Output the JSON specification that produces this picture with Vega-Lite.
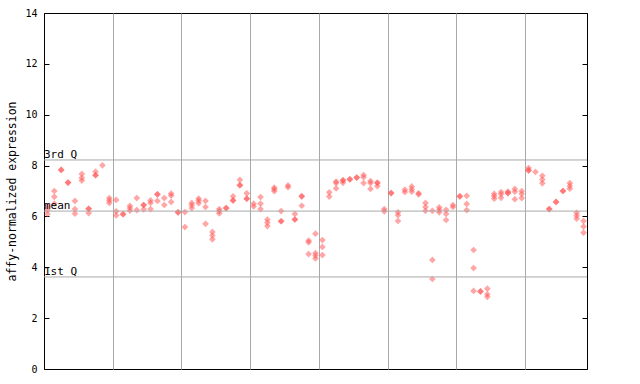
{
  "$schema": "https://vega.github.io/schema/vega-lite/v6.json",
  "width": 543,
  "height": 356,
  "autosize": {"type": "none"},
  "padding": {"left": 44, "top": 13, "right": 53, "bottom": 15},
  "config": {"view": {"stroke": "black", "strokeWidth": 1}, "font": "DejaVu Sans Mono"},
  "datasets": {
    "qs": [{"label": "3rd Q", "v": 8.22}, {"label": "mean", "v": 6.21}, {"label": "1st Q", "v": 3.62}],
    "pts": [
      {"s":0,"v":6.4},{"s":0,"v":6.25},{"s":0,"v":6.1},
      {"s":1,"v":7.0},{"s":1,"v":6.77},{"s":1,"v":6.5},
      {"s":2,"v":7.83},{"s":2,"v":7.83},
      {"s":3,"v":7.33},{"s":3,"v":7.33},
      {"s":4,"v":6.61},{"s":4,"v":6.29},{"s":4,"v":6.11},
      {"s":5,"v":7.67},{"s":5,"v":7.52},{"s":5,"v":7.41},
      {"s":6,"v":6.3},{"s":6,"v":6.3},{"s":6,"v":6.13},
      {"s":7,"v":7.76},{"s":7,"v":7.62},{"s":7,"v":7.62},
      {"s":8,"v":8.01},
      {"s":9,"v":6.72},{"s":9,"v":6.63},{"s":9,"v":6.53},
      {"s":10,"v":6.65},{"s":10,"v":6.2},{"s":10,"v":6.04},
      {"s":11,"v":6.09},{"s":11,"v":6.09},
      {"s":12,"v":6.42},{"s":12,"v":6.33},{"s":12,"v":6.23},
      {"s":13,"v":6.72},{"s":13,"v":6.25},
      {"s":14,"v":6.45},{"s":14,"v":6.45},{"s":14,"v":6.28},
      {"s":15,"v":6.63},{"s":15,"v":6.53},{"s":15,"v":6.29},
      {"s":16,"v":6.87},{"s":16,"v":6.87},{"s":16,"v":6.61},
      {"s":17,"v":6.72},{"s":17,"v":6.45},
      {"s":18,"v":6.9},{"s":18,"v":6.82},{"s":18,"v":6.57},
      {"s":19,"v":6.16},{"s":19,"v":6.16},
      {"s":20,"v":6.17},{"s":20,"v":5.58},
      {"s":21,"v":6.53},{"s":21,"v":6.44},{"s":21,"v":6.33},
      {"s":22,"v":6.7},{"s":22,"v":6.62},{"s":22,"v":6.52},
      {"s":23,"v":6.61},{"s":23,"v":6.37},{"s":23,"v":5.71},
      {"s":24,"v":5.39},{"s":24,"v":5.25},{"s":24,"v":5.1},
      {"s":25,"v":6.29},{"s":25,"v":6.21},{"s":25,"v":6.12},
      {"s":26,"v":6.33},{"s":26,"v":6.33},
      {"s":27,"v":6.79},{"s":27,"v":6.63},{"s":27,"v":6.63},
      {"s":28,"v":7.44},{"s":28,"v":7.23},{"s":28,"v":7.23},
      {"s":29,"v":6.91},{"s":29,"v":6.7},{"s":29,"v":6.7},
      {"s":30,"v":6.5},{"s":30,"v":6.39},
      {"s":31,"v":6.76},{"s":31,"v":6.5},{"s":31,"v":6.29},
      {"s":32,"v":5.88},{"s":32,"v":5.76},{"s":32,"v":5.62},
      {"s":33,"v":7.13},{"s":33,"v":7.07},{"s":33,"v":6.99},
      {"s":34,"v":6.21},{"s":34,"v":5.81},{"s":34,"v":5.81},
      {"s":35,"v":7.22},{"s":35,"v":7.15},
      {"s":36,"v":6.1},{"s":36,"v":5.88},{"s":36,"v":5.88},
      {"s":37,"v":6.79},{"s":37,"v":6.79},{"s":37,"v":6.42},
      {"s":38,"v":5.05},{"s":38,"v":4.98},{"s":38,"v":4.52},
      {"s":39,"v":5.32},{"s":39,"v":4.56},{"s":39,"v":4.46},{"s":39,"v":4.35},
      {"s":40,"v":5.07},{"s":40,"v":4.8},{"s":40,"v":4.48},
      {"s":41,"v":6.95},{"s":41,"v":6.78},
      {"s":42,"v":7.37},{"s":42,"v":7.31},{"s":42,"v":7.1},
      {"s":43,"v":7.42},{"s":43,"v":7.42},{"s":43,"v":7.32},
      {"s":44,"v":7.46},{"s":44,"v":7.46},
      {"s":45,"v":7.53},{"s":45,"v":7.53},
      {"s":46,"v":7.63},{"s":46,"v":7.54},{"s":46,"v":7.31},
      {"s":47,"v":7.39},{"s":47,"v":7.31},{"s":47,"v":7.08},
      {"s":48,"v":7.32},{"s":48,"v":7.32},{"s":48,"v":7.19},
      {"s":49,"v":6.29},{"s":49,"v":6.2},
      {"s":50,"v":6.92},{"s":50,"v":6.92},
      {"s":51,"v":6.16},{"s":51,"v":6.05},{"s":51,"v":5.82},
      {"s":52,"v":7.05},{"s":52,"v":6.96},
      {"s":53,"v":7.18},{"s":53,"v":7.07},{"s":53,"v":6.97},
      {"s":54,"v":6.91},{"s":54,"v":6.87},
      {"s":55,"v":6.53},{"s":55,"v":6.37},{"s":55,"v":6.22},
      {"s":56,"v":6.22},{"s":56,"v":4.29},{"s":56,"v":3.54},
      {"s":57,"v":6.36},{"s":57,"v":6.26},{"s":57,"v":6.16},
      {"s":58,"v":6.26},{"s":58,"v":6.1},{"s":58,"v":5.86},
      {"s":59,"v":6.45},{"s":59,"v":6.37},
      {"s":60,"v":6.79},{"s":60,"v":6.79},
      {"s":61,"v":6.81},{"s":61,"v":6.49},{"s":61,"v":6.25},
      {"s":62,"v":4.68},{"s":62,"v":3.97},{"s":62,"v":3.07},
      {"s":63,"v":3.05},{"s":63,"v":3.05},
      {"s":64,"v":3.16},{"s":64,"v":2.94},{"s":64,"v":2.84},
      {"s":65,"v":6.89},{"s":65,"v":6.8},{"s":65,"v":6.7},
      {"s":66,"v":6.96},{"s":66,"v":6.88},{"s":66,"v":6.73},
      {"s":67,"v":6.98},{"s":67,"v":6.92},{"s":67,"v":6.92},
      {"s":68,"v":7.08},{"s":68,"v":6.97},{"s":68,"v":6.68},
      {"s":69,"v":7.0},{"s":69,"v":6.89},{"s":69,"v":6.72},
      {"s":70,"v":7.9},{"s":70,"v":7.81},{"s":70,"v":7.81},
      {"s":71,"v":7.75},
      {"s":72,"v":7.6},{"s":72,"v":7.45},{"s":72,"v":7.3},
      {"s":73,"v":6.29},{"s":73,"v":6.29},
      {"s":74,"v":6.57},{"s":74,"v":6.57},
      {"s":75,"v":7.0},{"s":75,"v":7.0},
      {"s":76,"v":7.31},{"s":76,"v":7.2},{"s":76,"v":7.09},
      {"s":77,"v":6.14},{"s":77,"v":6.03},{"s":77,"v":5.91},
      {"s":78,"v":5.82},{"s":78,"v":5.6},{"s":78,"v":5.36}
    ]
  },
  "layer": [
    {
      "data": {"name": "pts"},
      "mark": {"type": "point", "shape": "diamond", "filled": true, "size": 45, "color": "#ff4f4f", "opacity": 0.5, "strokeWidth": 0},
      "encoding": {
        "x": {
          "field": "s", "type": "quantitative",
          "scale": {"domain": [-0.5, 78.5], "nice": false, "zero": false},
          "axis": {"values": [9.5, 19.5, 29.5, 39.5, 49.5, 59.5, 69.5], "grid": true, "gridColor": "#a9a9a9", "gridOpacity": 1, "ticks": false, "labels": false, "domain": false, "title": null}
        },
        "y": {
          "field": "v", "type": "quantitative",
          "scale": {"domain": [0, 14], "nice": false},
          "axis": {
            "values": [0, 2, 4, 6, 8, 10, 12, 14], "grid": false, "ticks": true, "offset": -5, "tickSize": 5, "tickWidth": 1, "tickColor": "black",
            "labelPadding": 7, "labelFont": "DejaVu Sans Mono", "labelFontSize": 10, "labelColor": "black",
            "domain": false,
            "title": "affy-normalized expression", "titleFont": "DejaVu Sans Mono", "titleFontSize": 11.5,
            "titleFontWeight": "normal", "titleColor": "black", "titleX": -37, "titleY": 178,
            "titleAngle": -90, "titleAlign": "center", "titleBaseline": "middle"
          }
        }
      }
    },
    {
      "data": {"name": "qs"},
      "mark": {"type": "rule", "color": "#a9a9a9", "strokeWidth": 1},
      "encoding": {
        "y": {
          "field": "v", "type": "quantitative",
          "scale": {"domain": [0, 14], "nice": false},
          "axis": {"orient": "right", "values": [0, 2, 4, 6, 8, 10, 12, 14], "labels": false, "ticks": true, "offset": -5, "tickSize": 5, "tickWidth": 1, "tickColor": "black", "domain": false, "grid": false, "title": null}
        }
      }
    },
    {
      "data": {"name": "qs"},
      "mark": {"type": "text", "align": "left", "baseline": "alphabetic", "dy": -2, "dx": 0, "fontSize": 11, "font": "DejaVu Sans Mono", "color": "black"},
      "encoding": {
        "x": {"datum": -0.5, "type": "quantitative"},
        "y": {"field": "v", "type": "quantitative", "scale": {"domain": [0, 14], "nice": false}, "axis": null},
        "text": {"field": "label"}
      }
    }
  ],
  "resolve": {"scale": {"y": "independent"}}
}
